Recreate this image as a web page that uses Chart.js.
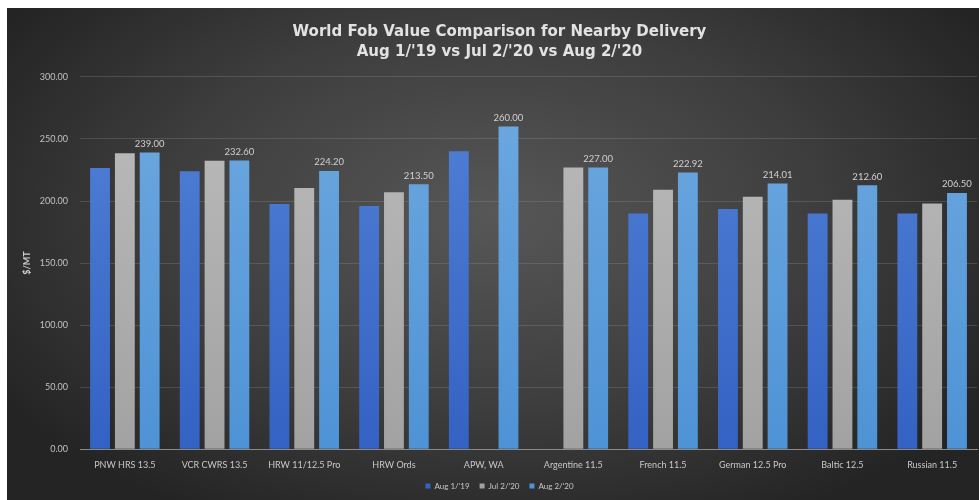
<!DOCTYPE html>
<html>
<head>
<meta charset="utf-8">
<script src="https://cdn.jsdelivr.net/npm/chart.js@4/dist/chart.umd.min.js"></script>
<style>
  html, body { margin: 0; padding: 0; background: #fff; }
  #wrap {
    position: absolute; left: 7px; top: 8px; width: 972px; height: 492px;
    background: radial-gradient(ellipse 60% 70% at 50% 42%, #575757 0%, #3e3e3e 55%, #242424 100%);
  }
</style>
</head>
<body>
<div id="wrap"><canvas id="chart" width="972" height="492"></canvas></div>
<script>
const categories = [
  "PNW HRS 13.5", "VCR CWRS 13.5", "HRW 11/12.5 Pro", "HRW Ords", "APW, WA",
  "Argentine 11.5", "French 11.5", "German 12.5 Pro", "Baltic 12.5", "Russian 11.5"
];
const seriesNames = ["Aug 1/'19", "Jul 2/'20", "Aug 2/'20"];
const aug19 = [226.5, 224.0, 197.5, 196.0, 240.0, null, 190.0, 193.5, 190.0, 190.0];
const jul20 = [238.5, 232.5, 210.5, 207.0, null, 227.0, 209.0, 203.5, 201.0, 198.0];
const aug20 = [239.00, 232.60, 224.20, 213.50, 260.00, 227.00, 222.92, 214.01, 212.60, 206.50];
const yTicks = [0, 50, 100, 150, 200, 250, 300];

const font = "Lato, 'Liberation Sans', sans-serif";

function grad(top, bottom) {
  return function (ctx) {
    const area = ctx.chart.chartArea;
    if (!area) return bottom;
    const g = ctx.chart.ctx.createLinearGradient(0, area.top, 0, area.bottom);
    g.addColorStop(0, top);
    g.addColorStop(1, bottom);
    return g;
  };
}

const valueLabels = {
  id: "valueLabels",
  afterDatasetsDraw(chart) {
    const c = chart.ctx;
    const meta = chart.getDatasetMeta(2);
    c.save();
    c.font = "9.5px " + font;
    c.fillStyle = "#d0d0d0";
    c.textAlign = "center";
    c.textBaseline = "bottom";
    meta.data.forEach((bar, i) => {
      if (aug20[i] == null) return;
      c.fillText(aug20[i].toFixed(2), bar.x, bar.y - 4);
    });
    c.restore();
  }
};

new Chart(document.getElementById("chart"), {
  type: "bar",
  data: {
    labels: categories,
    datasets: [
      { label: seriesNames[0], data: aug19, backgroundColor: grad("#5282d6", "#3462c4") },
      { label: seriesNames[1], data: jul20, backgroundColor: grad("#bcbcbc", "#a2a2a2") },
      { label: seriesNames[2], data: aug20, backgroundColor: grad("#6fa9e0", "#4e93d6") }
    ]
  },
  options: {
    responsive: false,
    animation: false,
    layout: { padding: { top: 14, right: 2, bottom: 0, left: 15 } },
    datasets: { bar: { categoryPercentage: 0.83, barPercentage: 0.8 } },
    plugins: {
      title: {
        display: true,
        text: ["World Fob Value Comparison for Nearby Delivery", "Aug 1/'19 vs Jul 2/'20 vs Aug 2/'20"],
        color: "#e2e2e2",
        font: { family: "'DejaVu Sans', sans-serif", size: 15, weight: "bold", lineHeight: 1.33 },
        padding: { top: 0, bottom: 15 }
      },
      legend: {
        position: "bottom",
        labels: {
          color: "#c8c8c8",
          font: { family: font, size: 8 },
          boxWidth: 5, boxHeight: 5,
          padding: 10
        }
      },
      tooltip: { enabled: false }
    },
    scales: {
      x: {
        grid: { display: false },
        border: { color: "#8a8a8a" },
        ticks: { color: "#c8c8c8", font: { family: font, size: 9 }, maxRotation: 0, autoSkip: false, padding: 2 }
      },
      y: {
        min: 0, max: 300,
        afterBuildTicks(axis) { axis.ticks = yTicks.map(v => ({ value: v })); },
        afterFit(axis) { axis.width = 58; },
        grid: { color: "rgba(150,150,150,0.28)", drawTicks: false },
        border: { display: false },
        ticks: {
          color: "#c0c0c0", font: { family: font, size: 9 }, padding: 12,
          callback: v => Number(v).toFixed(2)
        },
        title: { display: true, text: "$/MT", color: "#d0d0d0", font: { family: font, size: 9, weight: "bold" }, padding: 0 }
      }
    }
  },
  plugins: [valueLabels]
});
</script>
</body>
</html>
